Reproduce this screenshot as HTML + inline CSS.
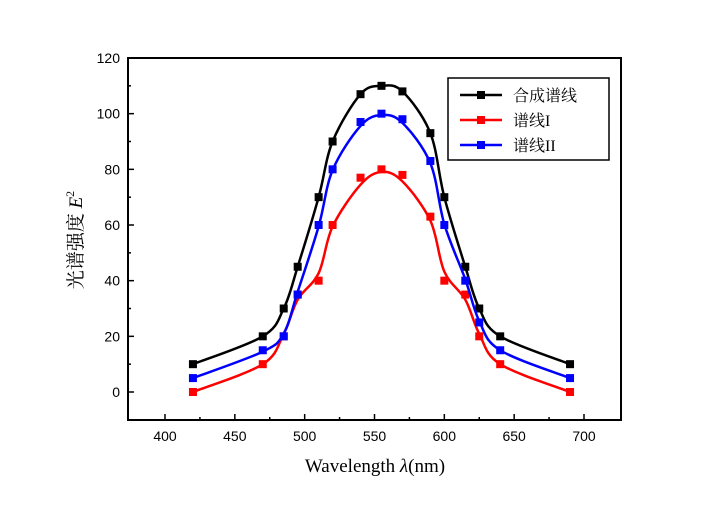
<!DOCTYPE html>
<html><head><meta charset="utf-8"><style>
body{margin:0;background:#fff}
svg text{font-family:"Liberation Sans",sans-serif}
</style></head><body>
<svg id="chart" width="720" height="505" viewBox="0 0 720 505" xmlns="http://www.w3.org/2000/svg">
<rect x="128" y="58" width="493" height="362" fill="none" stroke="#000" stroke-width="2"/>
<g id="axes"></g>
<g id="series"></g>
<text x="375" y="472" text-anchor="middle" font-size="19" style="font-family:'Liberation Serif',serif">Wavelength <tspan font-style="italic">λ</tspan>(nm)</text>
<text transform="translate(82,240) rotate(-90)" text-anchor="middle" font-size="19" style="font-family:'Liberation Serif','Noto Serif CJK SC',serif">光谱强度 <tspan font-style="italic">E</tspan><tspan font-size="12" dy="-8">2</tspan></text>
<g>
<rect x="448" y="78" width="161" height="82" fill="#fff" stroke="#000" stroke-width="1.5"/>
<g id="legend"></g>
</g>
</svg>
<script>
const xs = [420,470,485,495,510,520,540,555,570,590,600,615,625,640,690];
const totalVals = [10,20,30,45,70,90,107,110,108,93,70,45,30,20,10];
const line1Vals = [0,10,20,35,40,60,77,80,78,63,40,35,20,10,0];
const line2Vals = [5,15,20,35,60,80,97,100,98,83,60,40,25,15,5];
const xTicks = [400,450,500,550,600,650,700];
const yTicks = [0,20,40,60,80,100,120];
const seriesNames = ["合成谱线","谱线I","谱线II"];
const X = v => 165 + (v-400)*(419/300);
const Y = v => 392 - v*(334/120);
const NS="http://www.w3.org/2000/svg";
function mk(t,a,p){const e=document.createElementNS(NS,t);for(const k in a)e.setAttribute(k,a[k]);p.appendChild(e);return e;}
const ax=document.getElementById('axes');
xTicks.forEach(t=>{
 const l=mk('line',{x1:X(t),x2:X(t),y1:420,y2:414,stroke:'#000','stroke-width':1.5},ax);
 
 
 if(t<700){const m=mk('line',{x1:X(t+25),x2:X(t+25),y1:420,y2:417,stroke:'#000','stroke-width':1.5},ax);
 
 }
 const tx=mk('text',{x:X(t),y:441,'text-anchor':'middle','font-size':14},ax);tx.textContent=t;
 
 
});
yTicks.forEach(t=>{
 const l=mk('line',{x1:128,x2:134,y1:Y(t),y2:Y(t),stroke:'#000','stroke-width':1.5},ax);
 
 
 if(t<120){const m=mk('line',{x1:128,x2:131,y1:Y(t+10),y2:Y(t+10),stroke:'#000','stroke-width':1.5},ax);
 
 }
 const tx=mk('text',{x:120,y:Y(t)+5,'text-anchor':'end','font-size':14},ax);tx.textContent=t;
 
 
});
function smooth(vals,w){
 return vals.map((v,i)=>{
  if(i===0||i===vals.length-1)return v;
  return w*vals[i-1]+(1-2*w)*v+w*vals[i+1];
 });
}
function path(vals){
 const p=xs.map((x,i)=>[X(x),Y(vals[i])]);
 let d=`M${p[0][0]},${p[0][1]}`;
 for(let i=0;i<p.length-1;i++){
  const p0=p[Math.max(0,i-1)],p1=p[i],p2=p[i+1],p3=p[Math.min(p.length-1,i+2)];
  const c1=[p1[0]+(p2[0]-p0[0])/6,p1[1]+(p2[1]-p0[1])/6];
  const c2=[p2[0]-(p3[0]-p1[0])/6,p2[1]-(p3[1]-p1[1])/6];
  d+=` C${c1[0]},${c1[1]} ${c2[0]},${c2[1]} ${p2[0]},${p2[1]}`;
 }
 return d;
}
const sg=document.getElementById('series');
const all=[[totalVals,'#000','total',0],[line1Vals,'#ff0000','line-i',0.18],[line2Vals,'#0000ff','line-ii',0.1]];
all.forEach(([vals,c,n,w])=>{
 const pa=mk('path',{d:path(smooth(vals,w)),fill:'none',stroke:c,'stroke-width':2.5},sg);
 
 
 xs.forEach((x,i)=>{
  const r=mk('rect',{x:X(x)-4,y:Y(vals[i])-4,width:8,height:8,fill:c},sg);
  
  
 });
});
const lg=document.getElementById('legend');
all.forEach(([v,c,n],i)=>{
 const y=95+i*25;
 const l=mk('line',{x1:460,x2:502,y1:y,y2:y,stroke:c,'stroke-width':2.5},lg);
 
 
 const r=mk('rect',{x:477,y:y-4,width:8,height:8,fill:c},lg);
 
 
 const t=mk('text',{x:513,y:y+6,'font-size':16},lg);
 t.setAttribute('style',"font-family:'Liberation Serif','Noto Serif CJK SC',serif");
 t.textContent=seriesNames[i];
 
 
});
</script>
</body></html>
